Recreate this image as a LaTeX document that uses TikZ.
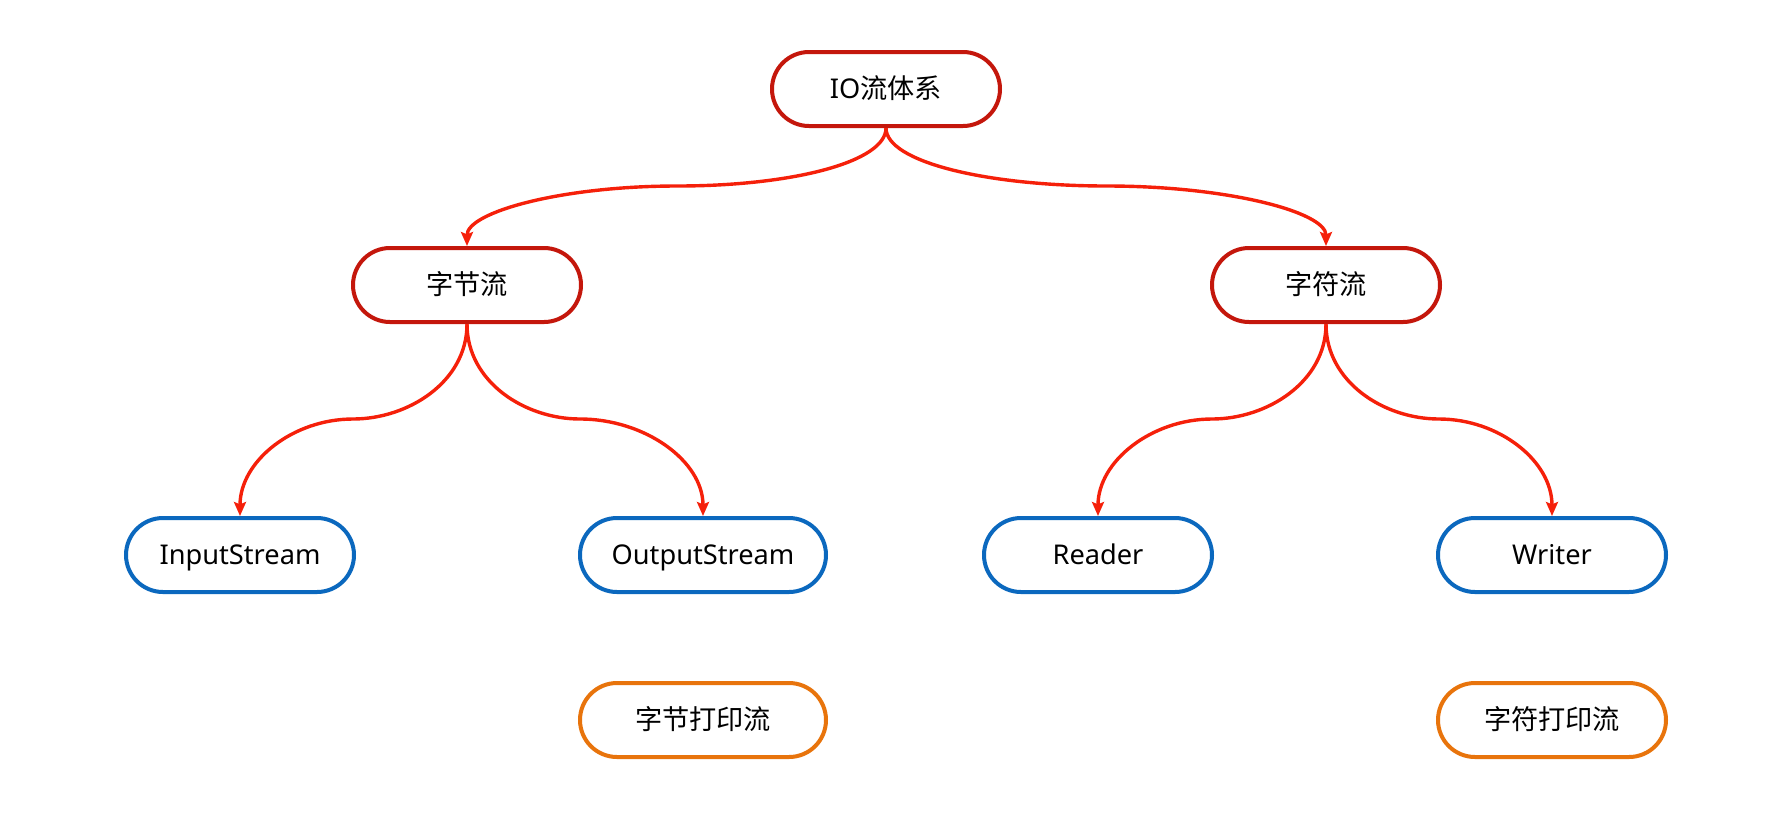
\documentclass[tikz,border=0pt]{standalone}
\usepackage{fontspec}
\setmainfont{Noto Sans}
\newfontfamily\cjk{Noto Sans CJK SC}
\usetikzlibrary{arrows.meta}

\definecolor{boxred}{HTML}{C4170C}
\definecolor{arrred}{HTML}{F5200A}
\definecolor{boxblue}{HTML}{0B68BE}
\definecolor{boxorange}{HTML}{E8740C}

\tikzset{
  pill/.style={draw, line width=2pt, rounded corners=18.5pt, fill=white,
    minimum width=114pt, minimum height=37pt, inner sep=0pt,
    text height=9.7pt, text depth=0pt,
    font=\fontsize{13.6pt}{16pt}\selectfont},
  redpill/.style={pill, draw=boxred},
  bluepill/.style={pill, draw=boxblue},
  orangepill/.style={pill, draw=boxorange},
  arr/.style={draw=arrred, line width=1.7pt,
    -{Stealth[length=7pt,width=6pt,inset=1.2pt]}}
}

\begin{document}
\begin{tikzpicture}[x=0.5pt, y=-0.5pt]
  \useasboundingbox (0,0) rectangle (1769,837);

  % tree nodes
  \node[redpill] (io)    at (886,89)  {IO{\cjk 流体系}};
  \node[redpill] (byte)  at (467,285) {\cjk 字节流};
  \node[redpill] (char)  at (1326,285) {\cjk 字符流};

  \node[bluepill] (in)     at (240,555)  {InputStream};
  \node[bluepill, minimum width=123pt] (out) at (703,555) {OutputStream};
  \node[bluepill] (reader) at (1098,555) {Reader};
  \node[bluepill] (writer) at (1552,555) {Writer};

  \node[orangepill, minimum width=123pt] (bprint) at (703,720) {\cjk 字节打印流};
  \node[orangepill] (cprint) at (1552,720) {\cjk 字符打印流};

  % turning points of the curved connectors
  \coordinate (m1) at (677,186);
  \coordinate (m2) at (1107,186);
  \coordinate (m3) at (353,419);
  \coordinate (m4) at (580,419);
  \coordinate (m5) at (1212,419);
  \coordinate (m6) at (1439,419);

  % connectors
  \draw[arr] (io.south) .. controls +(0,34) and +(115,0) .. (m1)
             .. controls +(-115,0) and +(0,-34) .. (byte.north);
  \draw[arr] (io.south) .. controls +(0,34) and +(-120,0) .. (m2)
             .. controls +(120,0) and +(0,-34) .. (char.north);

  \draw[arr] (byte.south) .. controls +(0,58) and +(55,0) .. (m3)
             .. controls +(-60,0) and +(0,-55) .. (in.north);
  \draw[arr] (byte.south) .. controls +(0,58) and +(-55,0) .. (m4)
             .. controls +(65,0) and +(0,-55) .. (out.north);

  \draw[arr] (char.south) .. controls +(0,58) and +(55,0) .. (m5)
             .. controls +(-60,0) and +(0,-55) .. (reader.north);
  \draw[arr] (char.south) .. controls +(0,58) and +(-55,0) .. (m6)
             .. controls +(60,0) and +(0,-55) .. (writer.north);
\end{tikzpicture}
\end{document}
